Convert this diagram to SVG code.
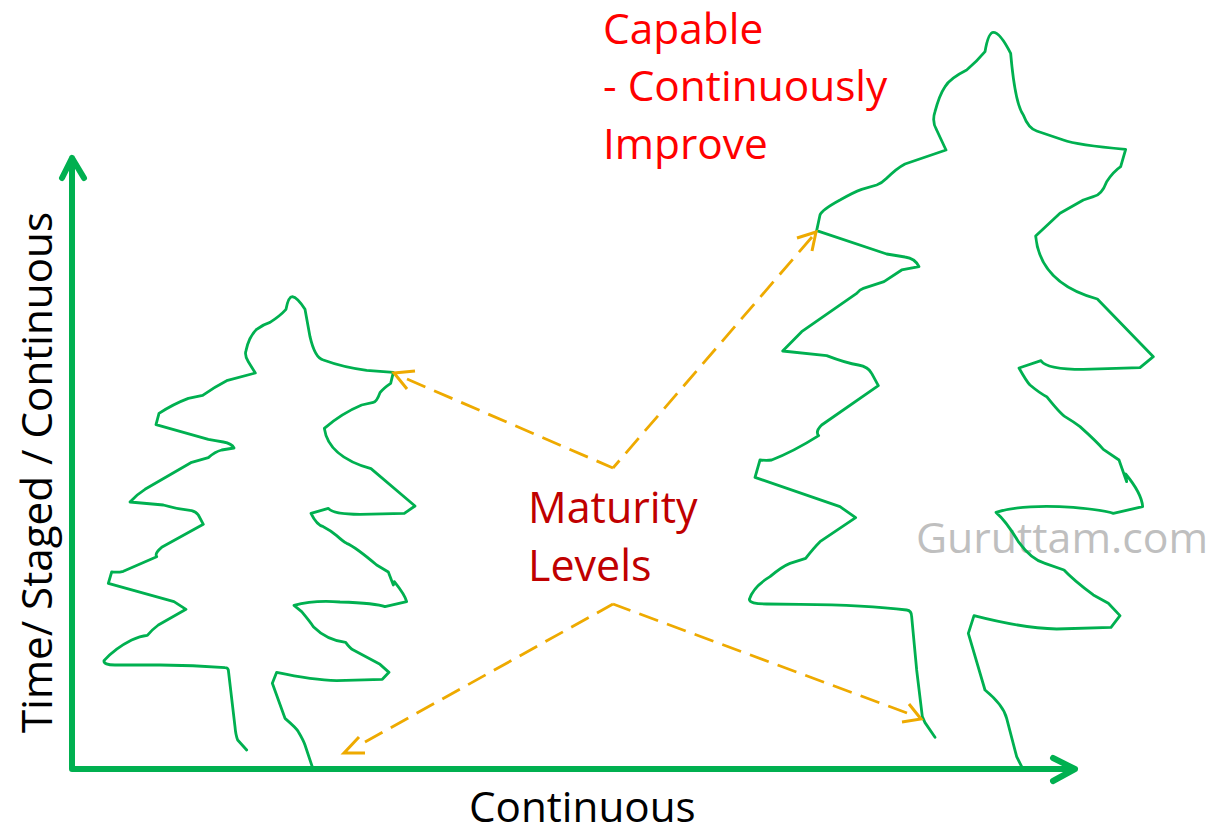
<svg xmlns="http://www.w3.org/2000/svg" width="1227" height="827" viewBox="0 0 1227 827">
<style>
.tree{fill:none;stroke:#00B050;stroke-width:8.4;stroke-linejoin:round;stroke-linecap:round}
.axis{fill:none;stroke:#00B050;stroke-width:6;stroke-linecap:round;stroke-linejoin:round}
.lead{fill:none;stroke:#EEAA00;stroke-width:2.8;stroke-dasharray:20 9.5}
.head{fill:none;stroke:#EEAA00;stroke-width:3}
text{font-family:"Open Sans","Noto Sans",sans-serif}
.red{font-size:42.4px;fill:#FF0000}
.dark{font-size:43px;fill:#C00000}
.blk{font-size:42.2px;fill:#000}
</style>
<rect width="1227" height="827" fill="#fff"/>
<g id="watermark"><text x="916" y="553" font-size="42.8" fill="#BFBFBF">Guruttam.com</text></g>
<g id="tree-small" transform="translate(60,280) scale(0.33333)"><path class="tree" d="M560,1410 L533,1380 Q527,1365 525,1340 L505,1170 Q503,1163 495,1163 Q400,1155 300,1155 L165,1155 Q130,1155 132,1142 Q165,1105 215,1080 Q240,1068 262,1066 Q275,1050 295,1035 L378,988 L342,965 L145,910 L155,876 Q175,878 190,874 L290,830 Q283,820 305,802 L430,733 L415,705 Q408,695 395,692 Q350,687 310,675 L210,666 Q232,642 255,628 L395,547 L445,533 Q465,515 485,510 L522,504 Q515,490 490,486 Q465,482 445,478 L288,434 L297,400 Q340,372 385,355 L428,346 Q465,320 500,302 L586,279 L565,245 Q553,225 558,212 Q567,170 590,148 Q610,133 630,127 Q660,108 678,88 Q685,50 697,50 Q712,52 735,88 L750,170 Q765,235 790,240 Q850,262 920,271 L1000,277 L992,310 Q970,325 960,338 Q950,365 940,367 L905,375 Q845,400 793,445 Q805,530 933,566 L1065,678 L1033,700 L900,703 Q820,703 805,685 L753,700 Q770,735 790,740 Q810,750 830,767 Q850,785 860,790 Q885,800 950,855 L985,876 L1000,915 L1003,905 Q1035,945 1040,965 L975,980 Q950,970 840,966 Q760,960 702,976 L725,995 Q750,1025 760,1040 Q800,1080 857,1087 Q870,1105 880,1110 L960,1153 L987,1177 L967,1198 L830,1202 Q760,1200 650,1177 L637,1210 L675,1315 Q710,1345 715,1355 Q730,1380 735,1395 L760,1470"/></g>
<g id="tree-large" transform="translate(740,20) scale(0.33333)"><path class="tree" d="M585,2152 L555,2108 L547,2090 L530,1950 L515,1790 Q515,1772 500,1770 Q380,1755 180,1753 L80,1752 Q28,1752 28,1738 Q40,1700 90,1670 Q125,1640 150,1630 L197,1615 Q220,1585 240,1565 L347,1493 L300,1460 L45,1372 L60,1320 Q80,1322 95,1320 Q160,1295 236,1247 Q225,1235 245,1215 L415,1097 L395,1060 Q385,1040 355,1035 Q320,1030 260,1007 L128,993 L185,935 L350,820 Q360,808 370,805 L432,785 L485,750 L537,740 Q525,715 495,711 L440,702 L230,632 L240,585 Q245,570 300,540 Q340,517 365,508 L410,495 Q425,490 440,475 Q470,445 495,432 L618,390 L590,330 Q575,305 585,275 Q598,225 615,200 Q630,175 680,150 Q710,125 735,95 Q745,37 760,37 Q780,37 812,100 Q825,250 850,285 Q865,325 890,333 L970,360 Q1010,375 1157,388 L1142,440 Q1120,455 1100,485 Q1085,525 1060,530 L1030,540 L960,580 L887,648 Q900,790 1072,837 L1240,1010 L1200,1043 L1030,1048 Q920,1048 903,1022 L837,1044 Q860,1085 870,1095 Q900,1120 920,1130 Q960,1180 975,1190 Q1000,1205 1020,1220 Q1070,1265 1090,1288 L1137,1320 L1160,1385 L1157,1362 Q1205,1420 1208,1460 L1120,1480 Q1090,1470 1000,1462 Q850,1452 768,1477 Q800,1505 835,1565 Q875,1620 915,1630 L972,1650 Q1000,1680 1060,1725 L1105,1750 L1140,1787 L1113,1822 L950,1827 Q850,1825 702,1787 L685,1840 L735,2010 Q790,2055 800,2095 L830,2210 L850,2250"/></g>
<g id="connectors">
<path class="axis" d="M72 769V158M62 178L72 158L84 178M72 769H1075M1053 758L1075 769L1053 781"/>
<path class="lead" d="M407 379L613 468"/>
<path class="head" d="M415 371L394 373L407 389"/>
<path class="lead" d="M812 237L613 468"/>
<path class="head" d="M797 238L816 232L812 251"/>
<path class="lead" d="M365 742L613 604"/>
<path class="head" d="M359 737L344 753L365 753"/>
<path class="lead" d="M907 713L613 604"/>
<path class="head" d="M909 704L921 719L902 722"/>
</g>
<g id="label-capable"><text class="red" x="603" y="44">Capable</text><text class="red" x="603" y="101">- Continuously</text><text class="red" x="603" y="159">Improve</text></g>
<g id="label-maturity"><text class="dark" x="528" y="523">Maturity</text><text class="dark" x="528" y="581">Levels</text></g>
<g id="label-x"><text class="blk" x="469" y="822">Continuous</text></g>
<g id="label-y"><text class="blk" transform="translate(52,733) rotate(-90)">Time/ Staged / Continuous</text></g>
</svg>
